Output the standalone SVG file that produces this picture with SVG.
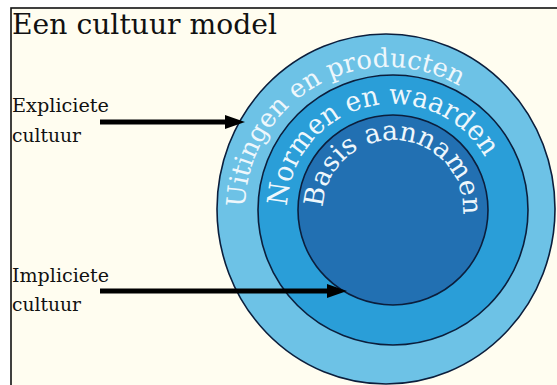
<svg xmlns="http://www.w3.org/2000/svg" width="557" height="385" viewBox="0 0 557 385">
  <style>
    .lbl { font-family: 'DejaVu Serif', serif; fill: #111; }
    .arc { font-family: 'DejaVu Serif', serif; fill: #EEF7FC; }
    .ring { stroke: #0B1E3C; stroke-width: 1.6; }
    .conn { stroke: #000; stroke-width: 5; fill: none; }
  </style>
  <defs>
    <marker id="ah" markerUnits="userSpaceOnUse" markerWidth="20" markerHeight="14" refX="5" refY="7" orient="auto">
      <path d="M0,0 L20,7 L0,14 z" fill="#000"/>
    </marker>
    <path id="pOuter" d="M245,210 A143,143 0 1 1 531,210 A143,143 0 1 1 245,210"/>
    <path id="pMid" d="M287,210 A106,106 0 1 1 499,210 A106,106 0 1 1 287,210"/>
    <path id="pIn" d="M323,210 A70,70 0 1 1 463,210 A70,70 0 1 1 323,210"/>
  </defs>
  <rect x="0" y="0" width="557" height="385" fill="#FFFFFF"/>
  <rect x="11" y="8" width="560" height="400" fill="#FFFDF0" stroke="#111" stroke-width="1.6"/>

  <g id="title">
    <text class="lbl" x="12" y="34" font-size="28" textLength="265" lengthAdjust="spacingAndGlyphs">Een cultuur model</text>
  </g>

  <g id="outer">
    <ellipse class="ring" cx="386" cy="209" rx="169" ry="175" fill="#6DC2E6"/>
    <text class="arc" font-size="26"><textPath href="#pOuter" startOffset="2.5" textLength="297" lengthAdjust="spacingAndGlyphs">Uitingen en producten</textPath></text>
  </g>
  <g id="middle">
    <circle class="ring" cx="393" cy="210" r="135" fill="#2A9ED8"/>
    <text class="arc" font-size="28"><textPath href="#pMid" startOffset="3.7" textLength="274" lengthAdjust="spacingAndGlyphs">Normen en waarden</textPath></text>
  </g>
  <g id="inner">
    <circle class="ring" cx="393" cy="210" r="95" fill="#2270B2"/>
    <text class="arc" font-size="27"><textPath href="#pIn" startOffset="2.4" textLength="222" lengthAdjust="spacingAndGlyphs">Basis aannamen</textPath></text>
  </g>

  <g id="expliciet">
    <text class="lbl" x="12" y="112" font-size="19" textLength="97" lengthAdjust="spacingAndGlyphs">Expliciete</text>
    <text class="lbl" x="12" y="142" font-size="19" textLength="69" lengthAdjust="spacingAndGlyphs">cultuur</text>
  </g>
  <g id="impliciet">
    <text class="lbl" x="12" y="282" font-size="19" textLength="97" lengthAdjust="spacingAndGlyphs">Impliciete</text>
    <text class="lbl" x="12" y="311" font-size="19" textLength="69" lengthAdjust="spacingAndGlyphs">cultuur</text>
  </g>

  <g id="connectors">
    <line class="conn" x1="100" y1="122" x2="230" y2="122" marker-end="url(#ah)"/>
    <line class="conn" x1="100" y1="291" x2="332" y2="291" marker-end="url(#ah)"/>
  </g>
</svg>
